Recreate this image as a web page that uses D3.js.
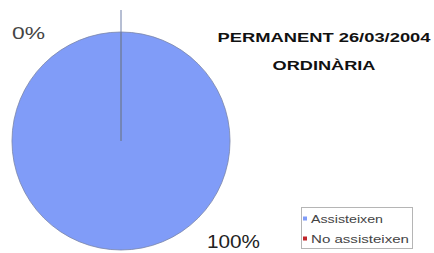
<!DOCTYPE html>
<html><head><meta charset="utf-8">
<script src="https://cdn.jsdelivr.net/npm/d3@7"></script>
<style>body{margin:0;background:#fff}</style>
</head><body>
<svg id="c" width="434" height="253"></svg>
<script>
const categories = ["Assisteixen", "No assisteixen"];
const values = [100, 0];
const labels = ["100%", "0%"];
const colors = ["#809cf8", "#c0262b"];
const titleLines = ["PERMANENT 26/03/2004", "ORDINÀRIA"];

const svg = d3.select("#c");
const font = "Liberation Sans, Arial, sans-serif";
const cx = 121, cy = 141, r = 109;
const pie = d3.pie().sort(null).value(d => d)(values);
const arc = d3.arc().innerRadius(0).outerRadius(r);
const g = svg.append("g").attr("transform", `translate(${cx},${cy})`);
g.selectAll("path").data(pie).join("path")
  .attr("d", arc).attr("fill", (d,i) => colors[i])
  .attr("stroke", "#7a85a8").attr("stroke-width", 0.8);
g.append("line").attr("x1",0).attr("y1",0).attr("x2",0).attr("y2",-131)
  .attr("stroke","#6f7fa8").attr("stroke-width",1);

svg.append("text").attr("x", 207).attr("y", 248)
  .attr("font-family",font).attr("font-size",19).attr("fill","#222")
  .attr("textLength",53).attr("lengthAdjust","spacingAndGlyphs")
  .text(labels[0]);
svg.append("text").attr("x", 12).attr("y", 39)
  .attr("font-family",font).attr("font-size",16).attr("fill","#444")
  .attr("textLength",33).attr("lengthAdjust","spacingAndGlyphs")
  .text(labels[1]);

const tl = [213, 103];
svg.selectAll("text.t").data(titleLines).join("text").attr("class","t")
  .attr("x", (d,i) => 324 - tl[i]/2).attr("y", (d,i) => 42 + i*28)
  .attr("font-family",font).attr("font-weight","bold")
  .attr("font-size",12.5).attr("fill","#111")
  .attr("textLength",(d,i)=>tl[i]).attr("lengthAdjust","spacingAndGlyphs")
  .text(d => d);

const lg = svg.append("g");
lg.append("rect").attr("x",301.5).attr("y",207.5).attr("width",111).attr("height",41)
  .attr("fill","#fff").attr("stroke","#b5b5b5").attr("stroke-width",1);
const ll = [72, 98];
categories.forEach((c,i) => {
  const y = 219 + i*20;
  lg.append("rect").attr("x",303).attr("y",y-2.5).attr("width",4).attr("height",4).attr("fill",colors[i]);
  lg.append("text").attr("x",i ? 311 : 311).attr("y",y+3.5).attr("font-family",font)
    .attr("font-size",10).attr("fill","#444")
    .attr("textLength",ll[i]).attr("lengthAdjust","spacingAndGlyphs").text(c);
});
</script>
</body></html>
